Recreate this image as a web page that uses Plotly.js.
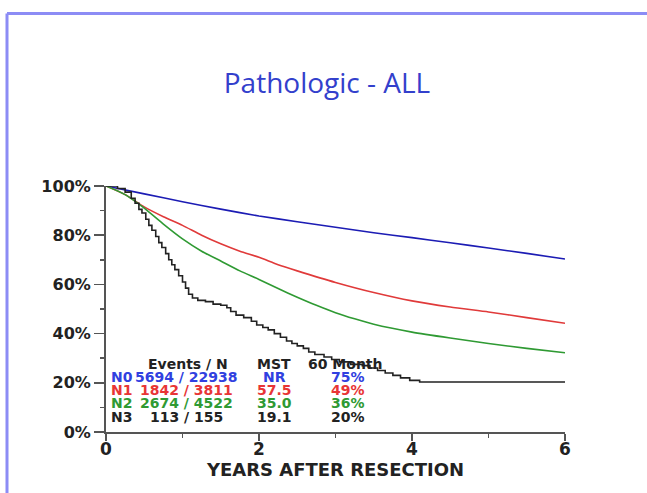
<!DOCTYPE html>
<html>
<head>
<meta charset="utf-8">
<script src="https://cdn.plot.ly/plotly-3.0.1.min.js"></script>
<style>html,body{margin:0;padding:0;background:#fff;}#chart{width:647px;height:493px;}</style>
</head>
<body>
<div id="chart"></div>
<script>
// ---- data (years after resection, survival %) ----
const n0Years = [0,0.5,1,1.5,2,2.5,3,3.5,4,4.5,5,5.5,6];
const n0Surv  = [100,96.8,93.6,90.6,87.8,85.5,83.2,81,79,76.9,74.8,72.6,70.3];

const n1Years = [0,0.25,0.5,0.75,1,1.25,1.5,1.75,2,2.25,2.5,3,3.5,4,4.5,5,5.5,6];
const n1Surv  = [100,96.5,91.5,87.5,84,80,76.5,73.5,71,68,65.5,60.8,56.7,53.3,50.8,48.8,46.5,44.2];

const n2Years = [0,0.25,0.5,0.75,1,1.25,1.5,1.75,2,2.25,2.5,2.75,3,3.25,3.5,4,4.5,5,5.5,6];
const n2Surv  = [100,96.5,91,84.5,78.5,73.5,69.5,65.5,62,58.3,54.8,51.5,48.5,46,43.8,40.6,38.2,36,34,32.2];

const n3Years = [0,0.15,0.25,0.33,0.38,0.43,0.47,0.52,0.56,0.6,0.65,0.69,0.73,0.78,0.82,0.86,0.9,0.95,1.0,1.04,1.08,1.13,1.2,1.3,1.4,1.5,1.58,1.63,1.7,1.8,1.9,1.97,2.05,2.12,2.2,2.28,2.36,2.43,2.5,2.58,2.65,2.73,2.85,2.95,3.05,3.2,3.35,3.45,3.55,3.65,3.75,3.85,3.97,4.1,6];
const n3Surv  = [100,99,97.5,95,93,90.5,89,86.5,84,82,79.5,77,75,72.5,70,68,66,63.5,61,58.5,56,54.5,53.5,53,52,51.5,50.5,49,47.5,46.5,45,43.5,42.5,41.5,40,38.5,37,36,35,34,32.5,31.5,30.5,29.5,28.5,27.5,27,26,25,24,23,22,21,20.3,20.3];

// ---- table ----
const rowLabels  = ["N0","N1","N2","N3"];
const eventsN    = ["5694 / 22938","1842 / 3811","2674 / 4522","113 / 155"];
const mstValues  = ["NR","57.5","35.0","19.1"];
const month60    = ["75%","49%","36%","20%"];
const headers    = ["Events / N","MST","60 Month"];

const lineColors = ["#1c1cb4","#e03a3a","#2f9a33","#222222"];
const textColors = ["#3040e0","#e83535","#2f9a33","#222222"];

// ---- geometry ----
const L = 106, R = 565, T = 186, B = 432, W = 647, H = 493;
const px2x = p => (p - L) / (R - L) * 6;
const py2y = p => (B - p) / (B - T) * 100;
const px2paper = p => (p - L) / (R - L);
const py2paper = p => (B - p) / (B - T);

const series = [[n0Years,n0Surv],[n1Years,n1Surv],[n2Years,n2Surv],[n3Years,n3Surv]];
const traces = series.map((s,i) => ({
  x: s[0], y: s[1], type: 'scatter', mode: 'lines',
  line: {color: lineColors[i], width: 1.6, shape: i === 3 ? 'hv' : 'spline', smoothing: 0.6},
  hoverinfo: 'skip', showlegend: false
}));

const tfont = (c) => ({family: 'DejaVu Sans', size: 14, weight: 'bold', color: c});
const ann = [];
const headerPx = [188, 274, 345];
headers.forEach((h,j) => ann.push({x: px2x(headerPx[j]), y: py2y(364), xref:'x', yref:'y', text: h, showarrow:false, xanchor:'center', yanchor:'middle', font: tfont('#222222')}));
const rowPy = [377, 390, 403, 416.5];
rowLabels.forEach((lab,i) => {
  const yy = py2y(rowPy[i]);
  ann.push({x: px2x(109), y: yy, xref:'x', yref:'y', text: lab, showarrow:false, xanchor:'left', yanchor:'middle', font: tfont(textColors[i])});
  ann.push({x: px2x(186.5), y: yy, xref:'x', yref:'y', text: eventsN[i], showarrow:false, xanchor:'center', yanchor:'middle', font: tfont(textColors[i])});
  ann.push({x: px2x(274), y: yy, xref:'x', yref:'y', text: mstValues[i], showarrow:false, xanchor:'center', yanchor:'middle', font: tfont(textColors[i])});
  ann.push({x: px2x(348), y: yy, xref:'x', yref:'y', text: month60[i], showarrow:false, xanchor:'center', yanchor:'middle', font: tfont(textColors[i])});
});

const frameColor = 'rgb(140,140,245)';
const shapes = [
  {type:'line', xref:'paper', yref:'paper', x0: px2paper(7), x1: px2paper(660), y0: py2paper(13.5), y1: py2paper(13.5), line:{color: frameColor, width: 3}},
  {type:'line', xref:'paper', yref:'paper', x0: px2paper(7), x1: px2paper(7), y0: py2paper(13.5), y1: py2paper(510), line:{color: frameColor, width: 3}}
];

const layout = {
  width: W, height: H,
  margin: {l: L, r: W - R, t: T, b: H - B, pad: 0},
  paper_bgcolor: '#ffffff', plot_bgcolor: '#ffffff',
  title: {text: 'Pathologic - ALL', x: 327 / W, xanchor: 'center', y: 1 - 83 / H, yanchor: 'middle',
          xref: 'container', yref: 'container',
          font: {family: 'Open Sans', size: 28, color: '#3340cc'}},
  xaxis: {range: [0, 6], dtick: 2, tick0: 0, showgrid: false, zeroline: false,
          showline: true, linecolor: '#555555', linewidth: 2,
          ticks: 'outside', ticklen: 7, tickwidth: 1.5, tickcolor: '#555555',
          ticklabelstandoff: -6,
          minor: {dtick: 1, ticks: 'outside', ticklen: 4, tickwidth: 1.5, tickcolor: '#555555'},
          tickfont: {family: 'DejaVu Sans', size: 17, weight: 'bold', color: '#222222'},
          title: {text: 'YEARS AFTER RESECTION', standoff: 0,
                  font: {family: 'DejaVu Sans', size: 18, weight: 'bold', color: '#222222'}},
          fixedrange: true, automargin: false},
  yaxis: {range: [0, 100], dtick: 20, tick0: 0, ticksuffix: '%', showgrid: false, zeroline: false,
          showline: true, linecolor: '#555555', linewidth: 2,
          ticks: 'outside', ticklen: 10, tickwidth: 1.5, tickcolor: '#555555',
          minor: {dtick: 10, ticks: 'outside', ticklen: 4, tickwidth: 1.5, tickcolor: '#555555'},
          tickfont: {family: 'DejaVu Sans', size: 16, weight: 'bold', color: '#222222'},
          fixedrange: true, automargin: false},
  annotations: ann,
  shapes: shapes,
  showlegend: false
};

Plotly.newPlot('chart', traces, layout, {displayModeBar: false, staticPlot: true});
</script>
</body>
</html>
